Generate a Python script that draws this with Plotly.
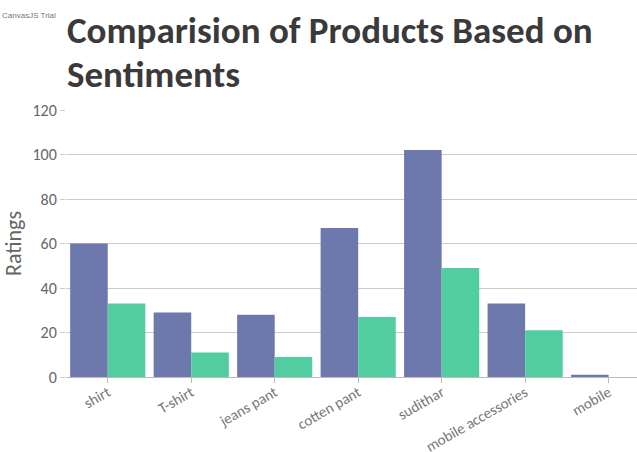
import plotly.graph_objects as go

categories = ["shirt", "T-shirt", "jeans pant", "cotten pant", "sudithar", "mobile accessories", "mobile"]
series_a = [60, 29, 28, 67, 102, 33, 1]
series_b = [33, 11, 9, 27, 49, 21, 0]
y_ticks = [0, 20, 40, 60, 80, 100, 120]

FONT = "Calibri, Carlito, Lato, sans-serif"
TITLE_FONT = "Calibri, Carlito, Lato, sans-serif"

PLOT_T, PLOT_B = 110, 75
PLOT_H = 452 - PLOT_T - PLOT_B
PLOT_L = 66
PLOT_W = 637 - PLOT_L


def py(pix_y):
    return (452 - PLOT_B - pix_y) / PLOT_H


def px(pix_x):
    return (pix_x - PLOT_L) / PLOT_W


fig = go.Figure()
fig.add_trace(go.Bar(x=categories, y=series_a, marker=dict(color="#6D78AD", line=dict(width=0)), name="A"))
fig.add_trace(go.Bar(x=categories, y=series_b, marker=dict(color="#51CDA0", line=dict(width=0)), name="B"))

title_lines = ["Comparision of Products Based on", "Sentiments"]
title_centers = [31, 75]

annotations = []
for line, cy in zip(title_lines, title_centers):
    annotations.append(dict(
        text=line, xref="paper", yref="paper", x=px(65), y=py(cy),
        xanchor="left", yanchor="middle", showarrow=False,
        font=dict(family=TITLE_FONT, size=37, color="#3A3A3A", weight="bold"),
    ))
annotations.append(dict(
    text="CanvasJS Trial", xref="paper", yref="paper",
    x=px(58), y=py(15), xanchor="right", yanchor="middle",
    showarrow=False, font=dict(family="Liberation Sans", size=8, color="#777777"),
))

fig.update_layout(
    width=637, height=452,
    barmode="group", bargap=0.1, bargroupgap=0,
    showlegend=False,
    plot_bgcolor="white", paper_bgcolor="white",
    margin=dict(l=PLOT_L, r=0, t=PLOT_T, b=PLOT_B, autoexpand=False),
    xaxis=dict(
        range=[-0.5, 6.34],
        tickangle=-30,
        tickfont=dict(family=FONT, size=15, color="#777777"),
        showline=True, linecolor="#BBBBBB", linewidth=1,
        ticks="outside", ticklen=5, tickcolor="#BBBBBB",
        ticklabelstandoff=-5,
        showgrid=False, automargin=False,
    ),
    yaxis=dict(
        range=[0, 120],
        tickvals=y_ticks,
        tickfont=dict(family=FONT, size=16, color="#666666"),
        title=dict(text="Ratings", font=dict(family=FONT, size=22, color="#666666"), standoff=12),
        showgrid=True, gridcolor="#CCCCCC", gridwidth=1,
        ticks="outside", ticklen=5, tickcolor="#CCCCCC",
        zeroline=False, showline=False, automargin=False,
    ),
    annotations=annotations,
)

fig.write_html("out.html")
